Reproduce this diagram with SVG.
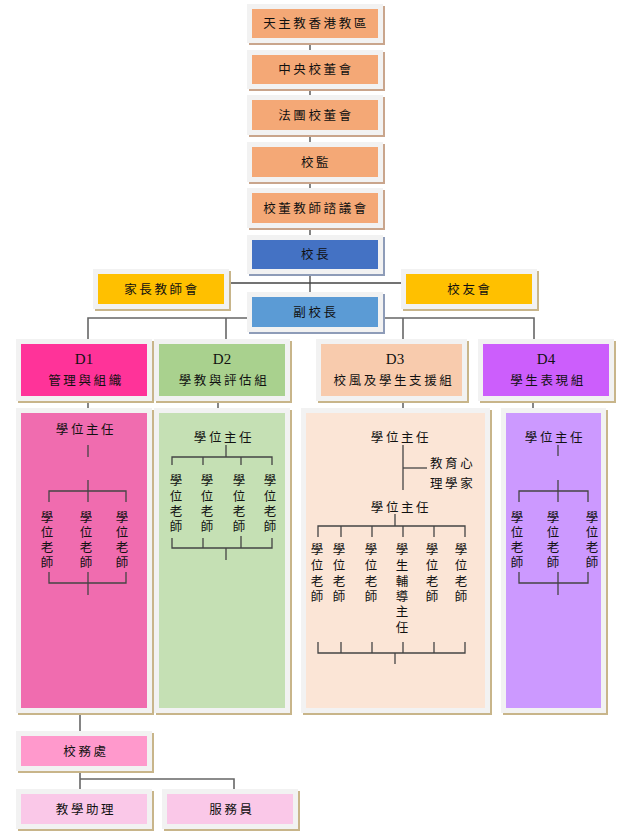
<svg xmlns="http://www.w3.org/2000/svg" width="623" height="834" viewBox="0 0 623 834">
<style>
text{font-family:"Liberation Serif","Noto Sans CJK TC",serif;font-size:12.5px;fill:#111;}
.h{text-anchor:middle;letter-spacing:2.6px;}
.v{text-anchor:middle;}
.d{font-size:15px;text-anchor:middle;}
.sh{fill:#C8B58A;}
.shb{fill:#8E9CB8;}
.sho{fill:#C9A58C;}
.ob{fill:#F2F2F2;}
.ln{stroke:#444;stroke-width:1.3;fill:none;}
.lg{stroke:#666;stroke-width:1.6;fill:none;}
.salmon{fill:#F4A876;}
</style>
<rect width="623" height="834" fill="#fff"/>
<g id="connectors">
<line class="lg" x1="310" y1="40" x2="310" y2="300"/>
<line class="ln" x1="229" y1="283" x2="403" y2="283"/>
<polyline class="lg" points="88,340 88,318 534,318 534,340"/>
<line class="lg" x1="226" y1="318" x2="226" y2="340"/>
<line class="lg" x1="403" y1="318" x2="403" y2="340"/>
<line class="ln" x1="88" y1="401" x2="88" y2="409"/>
<line class="ln" x1="218" y1="401" x2="218" y2="409"/>
<line class="ln" x1="403" y1="401" x2="403" y2="409"/>
<line class="ln" x1="533" y1="401" x2="533" y2="409"/>
<line class="lg" x1="80" y1="713" x2="80" y2="732"/>
<polyline class="lg" points="80,771 80,790"/>
<polyline class="lg" points="80,779 234,779 234,790"/>
</g>
<g id="n-diocese"><rect class="sho" x="249" y="6" width="136" height="39"/><rect class="ob" x="247" y="4" width="136" height="39"/><rect class="salmon" x="252" y="9" width="126" height="29"/><text class="h" x="316" y="28">天主教香港教區</text></g>
<g id="n-central"><rect class="sho" x="249" y="52" width="136" height="39"/><rect class="ob" x="247" y="50" width="136" height="39"/><rect class="salmon" x="252" y="55" width="126" height="29"/><text class="h" x="316" y="74">中央校董會</text></g>
<g id="n-corporate"><rect class="sho" x="249" y="97" width="136" height="40"/><rect class="ob" x="247" y="95" width="136" height="40"/><rect class="salmon" x="252" y="100" width="126" height="30"/><text class="h" x="316" y="120">法團校董會</text></g>
<g id="n-supervisor"><rect class="sho" x="249" y="144" width="136" height="40"/><rect class="ob" x="247" y="142" width="136" height="40"/><rect class="salmon" x="252" y="147" width="126" height="30"/><text class="h" x="316" y="167">校監</text></g>
<g id="n-council"><rect class="sho" x="249" y="190" width="136" height="40"/><rect class="ob" x="247" y="188" width="136" height="40"/><rect class="salmon" x="252" y="193" width="126" height="30"/><text class="h" x="316" y="213">校董教師諮議會</text></g>
<g id="n-principal"><rect class="shb" x="249" y="237" width="136" height="39"/><rect class="ob" x="247" y="235" width="136" height="39"/><rect fill="#4472C4" x="252" y="240" width="126" height="29"/><text class="h" x="316" y="259">校長</text></g>
<g id="n-pta"><rect class="sh" x="95" y="271" width="136" height="40"/><rect class="ob" x="93" y="269" width="136" height="40"/><rect fill="#FFC000" x="98" y="274" width="126" height="30"/><text class="h" x="162" y="294">家長教師會</text></g>
<g id="n-alumni"><rect class="sh" x="403" y="271" width="136" height="40"/><rect class="ob" x="401" y="269" width="136" height="40"/><rect fill="#FFC000" x="406" y="274" width="126" height="30"/><text class="h" x="470" y="294">校友會</text></g>
<g id="n-vice"><rect class="shb" x="249" y="294" width="136" height="40"/><rect class="ob" x="247" y="292" width="136" height="40"/><rect fill="#5B9BD5" x="252" y="297" width="126" height="30"/><text class="h" x="316" y="317">副校長</text></g>
<g id="n-d1"><rect class="sh" x="18" y="341" width="136" height="62"/><rect class="ob" x="16" y="339" width="136" height="62"/><rect fill="#FF3399" x="21" y="344" width="126" height="52"/><text class="d" x="84" y="364">D1</text><text class="h" x="86" y="385">管理與組織</text></g>
<g id="n-d2"><rect class="sh" x="156" y="341" width="136" height="62"/><rect class="ob" x="154" y="339" width="136" height="62"/><rect fill="#A9D18E" x="159" y="344" width="126" height="52"/><text class="d" x="222" y="364">D2</text><text class="h" x="224" y="385">學教與評估組</text></g>
<g id="n-d3"><rect class="sh" x="318" y="341" width="151" height="62"/><rect class="ob" x="316" y="339" width="151" height="62"/><rect fill="#F8CBAD" x="321" y="344" width="141" height="52"/><text class="d" x="395" y="364">D3</text><text class="h" x="394" y="385">校風及學生支援組</text></g>
<g id="n-d4"><rect class="sh" x="480" y="341" width="136" height="62"/><rect class="ob" x="478" y="339" width="136" height="62"/><rect fill="#CC5EFC" x="483" y="344" width="126" height="52"/><text class="d" x="546" y="364">D4</text><text class="h" x="548" y="385">學生表現組</text></g>
<g id="n-col1"><rect class="sh" x="18" y="410" width="136" height="305"/><rect class="ob" x="16" y="408" width="136" height="305"/><rect fill="#F06CAF" x="21" y="413" width="126" height="295"/>
<text class="h" x="86" y="434">學位主任</text>
<line class="ln" x1="88" y1="445" x2="88" y2="457"/>
<line class="ln" x1="88" y1="480" x2="88" y2="502"/>
<polyline class="ln" points="49,502 49,491 126,491 126,502"/>
<text class="v"><tspan x="47" y="522">學</tspan><tspan x="47" y="537">位</tspan><tspan x="47" y="552">老</tspan><tspan x="47" y="567">師</tspan></text>
<text class="v"><tspan x="86" y="522">學</tspan><tspan x="86" y="537">位</tspan><tspan x="86" y="552">老</tspan><tspan x="86" y="567">師</tspan></text>
<text class="v"><tspan x="122" y="522">學</tspan><tspan x="122" y="537">位</tspan><tspan x="122" y="552">老</tspan><tspan x="122" y="567">師</tspan></text>
<polyline class="ln" points="49,572 49,583 126,583 126,572"/>
<line class="ln" x1="88" y1="572" x2="88" y2="595"/>
</g>
<g id="n-col2"><rect class="sh" x="156" y="410" width="136" height="305"/><rect class="ob" x="154" y="408" width="136" height="305"/><rect fill="#C5E0B4" x="159" y="413" width="126" height="295"/>
<text class="h" x="224" y="442">學位主任</text>
<line class="ln" x1="226" y1="445" x2="226" y2="457"/>
<polyline class="ln" points="172,465 172,457 272,457 272,465"/>
<line class="ln" x1="203" y1="457" x2="203" y2="465"/>
<line class="ln" x1="241" y1="457" x2="241" y2="465"/>
<text class="v"><tspan x="176" y="485">學</tspan><tspan x="176" y="501">位</tspan><tspan x="176" y="516">老</tspan><tspan x="176" y="531">師</tspan></text>
<text class="v"><tspan x="207" y="485">學</tspan><tspan x="207" y="501">位</tspan><tspan x="207" y="516">老</tspan><tspan x="207" y="531">師</tspan></text>
<text class="v"><tspan x="239" y="485">學</tspan><tspan x="239" y="501">位</tspan><tspan x="239" y="516">老</tspan><tspan x="239" y="531">師</tspan></text>
<text class="v"><tspan x="270" y="485">學</tspan><tspan x="270" y="501">位</tspan><tspan x="270" y="516">老</tspan><tspan x="270" y="531">師</tspan></text>
<polyline class="ln" points="172,538 172,548 272,548 272,538"/>
<line class="ln" x1="203" y1="538" x2="203" y2="548"/>
<line class="ln" x1="241" y1="536" x2="241" y2="548"/>
<line class="ln" x1="226" y1="548" x2="226" y2="560"/>
</g>
<g id="n-col3"><rect class="sh" x="303" y="410" width="189" height="305"/><rect class="ob" x="301" y="408" width="189" height="305"/><rect fill="#FBE5D6" x="306" y="413" width="179" height="295"/>
<text class="h" x="401" y="442">學位主任</text>
<line class="ln" x1="403" y1="445" x2="403" y2="490"/>
<line class="ln" x1="403" y1="468" x2="427" y2="468"/>
<text x="430" y="468" style="letter-spacing:2.6px">教育心</text>
<text x="430" y="488" style="letter-spacing:2.6px">理學家</text>
<text class="h" x="401" y="512">學位主任</text>
<line class="ln" x1="395" y1="514" x2="395" y2="526"/>
<polyline class="ln" points="318,537 318,526 465,526 465,537"/>
<line class="ln" x1="341" y1="526" x2="341" y2="537"/>
<line class="ln" x1="372" y1="526" x2="372" y2="537"/>
<line class="ln" x1="403" y1="526" x2="403" y2="537"/>
<line class="ln" x1="434" y1="526" x2="434" y2="537"/>
<text class="v"><tspan x="317" y="554">學</tspan><tspan x="317" y="570">位</tspan><tspan x="317" y="586">老</tspan><tspan x="317" y="601">師</tspan></text>
<text class="v"><tspan x="339" y="554">學</tspan><tspan x="339" y="570">位</tspan><tspan x="339" y="586">老</tspan><tspan x="339" y="601">師</tspan></text>
<text class="v"><tspan x="371" y="554">學</tspan><tspan x="371" y="570">位</tspan><tspan x="371" y="586">老</tspan><tspan x="371" y="601">師</tspan></text>
<text class="v"><tspan x="402" y="554">學</tspan><tspan x="402" y="570">生</tspan><tspan x="402" y="586">輔</tspan><tspan x="402" y="601">導</tspan><tspan x="402" y="616">主</tspan><tspan x="402" y="632">任</tspan></text>
<text class="v"><tspan x="432" y="554">學</tspan><tspan x="432" y="570">位</tspan><tspan x="432" y="586">老</tspan><tspan x="432" y="601">師</tspan></text>
<text class="v"><tspan x="461" y="554">學</tspan><tspan x="461" y="570">位</tspan><tspan x="461" y="586">老</tspan><tspan x="461" y="601">師</tspan></text>
<polyline class="ln" points="318,642 318,653 465,653 465,642"/>
<line class="ln" x1="341" y1="642" x2="341" y2="653"/>
<line class="ln" x1="372" y1="642" x2="372" y2="653"/>
<line class="ln" x1="403" y1="642" x2="403" y2="653"/>
<line class="ln" x1="434" y1="642" x2="434" y2="653"/>
<line class="ln" x1="395" y1="653" x2="395" y2="664"/>
</g>
<g id="n-col4"><rect class="sh" x="503" y="410" width="105" height="305"/><rect class="ob" x="501" y="408" width="105" height="305"/><rect fill="#CC99FF" x="506" y="413" width="95" height="295"/>
<text class="h" x="555" y="442">學位主任</text>
<line class="ln" x1="558" y1="445" x2="558" y2="456"/>
<line class="ln" x1="558" y1="480" x2="558" y2="502"/>
<polyline class="ln" points="519,502 519,491 588,491 588,502"/>
<text class="v"><tspan x="517" y="522">學</tspan><tspan x="517" y="537">位</tspan><tspan x="517" y="552">老</tspan><tspan x="517" y="567">師</tspan></text>
<text class="v"><tspan x="553" y="522">學</tspan><tspan x="553" y="537">位</tspan><tspan x="553" y="552">老</tspan><tspan x="553" y="567">師</tspan></text>
<text class="v"><tspan x="592" y="522">學</tspan><tspan x="592" y="537">位</tspan><tspan x="592" y="552">老</tspan><tspan x="592" y="567">師</tspan></text>
<polyline class="ln" points="519,572 519,583 588,583 588,572"/>
<line class="ln" x1="558" y1="572" x2="558" y2="595"/>
</g>
<g id="n-office"><rect class="sh" x="18" y="733" width="136" height="40"/><rect class="ob" x="16" y="731" width="136" height="40"/><rect fill="#FF99CC" x="21" y="736" width="126" height="30"/><text class="h" x="86" y="756">校務處</text></g>
<g id="n-ta"><rect class="sh" x="18" y="791" width="136" height="40"/><rect class="ob" x="16" y="789" width="136" height="40"/><rect fill="#FAC8E8" x="21" y="794" width="126" height="30"/><text class="h" x="86" y="814">教學助理</text></g>
<g id="n-staff"><rect class="sh" x="164" y="791" width="136" height="40"/><rect class="ob" x="162" y="789" width="136" height="40"/><rect fill="#FAC8E8" x="167" y="794" width="126" height="30"/><text class="h" x="232" y="814">服務員</text></g>
</svg>
